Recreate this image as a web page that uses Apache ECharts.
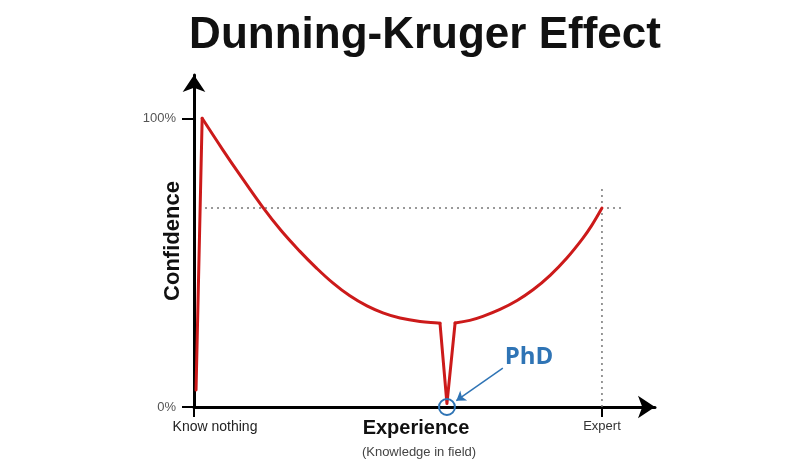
<!DOCTYPE html>
<html>
<head>
<meta charset="utf-8">
<script src="https://cdn.jsdelivr.net/npm/echarts@6/dist/echarts.min.js"></script>
<style>
  html, body { margin: 0; padding: 0; background: #fff; }
  #chart { width: 809px; height: 466px; }
</style>
</head>
<body>
<div id="chart"></div>
<script>
// confidence curve (x: experience 0..100, y: confidence %)
// straight climb at the very start
var climbX = [0.5, 2.0];
var climbY = [5.9, 100];
// long fall after the peak
var fallX = [2.0, 7.1, 11.3, 16.7, 21.3, 25.9, 29.9, 34.1, 38.2, 42.4, 46.3, 50.5, 55.4, 59.8, 60.3];
var fallY = [100, 89.0, 80.3, 69.5, 61.2, 54.0, 48.3, 42.9, 38.5, 35.0, 32.6, 30.8, 29.6, 29.1, 29.0];
// the PhD dip
var dipX = [60.3, 62.0, 64.0];
var dipY = [29.0, 1.2, 29.1];
// slow rise to expert
var riseX = [64.0, 67.6, 70.8, 75.0, 79.2, 83.1, 87.3, 91.4, 95.3, 97.5, 100];
var riseY = [29.1, 30.0, 31.4, 33.8, 36.9, 40.6, 45.6, 51.6, 58.4, 62.9, 68.9];

// dotted guide lines
var hGuideX = [2.7, 104.9];
var hGuideY = [68.9, 68.9];
var vGuideX = [100, 100];
var vGuideY = [0, 75.8];

// PhD marker + arrow
var phdPoint = [62.0, 0];
var arrowFrom = [75.7, 13.5];
var arrowTo = [64.3, 2.2];

var yTickValues = [0, 100];
var yTickLabels = ['0%', '100%'];
var xTickValues = [0, 100];
var xTickLabels = ['Know nothing', 'Expert'];

var RED = '#cc1a1a';
var BLUE = '#2f74b5';

function zip(xs, ys) {
  var out = [];
  for (var i = 0; i < xs.length; i++) out.push([xs[i], ys[i]]);
  return out;
}

function curvePart(xs, ys, smooth) {
  return {
    type: 'line',
    data: zip(xs, ys),
    symbol: 'none',
    smooth: smooth,
    z: 5,
    lineStyle: { color: RED, width: 3, cap: 'round', join: 'round' }
  };
}

var chart = echarts.init(document.getElementById('chart'));

var option = {
  backgroundColor: '#fff',
  animation: false,
  title: {
    text: 'Dunning-Kruger Effect',
    left: 420,
    textAlign: 'center',
    top: 9,
    textStyle: {
      fontFamily: 'Liberation Sans',
      fontWeight: 'bold',
      fontSize: 44,
      color: '#111'
    }
  },
  graphic: [{
    type: 'text',
    x: 419,
    y: 452,
    style: {
      text: '(Knowledge in field)',
      fontFamily: 'Liberation Sans',
      fontSize: 13,
      fill: '#444',
      align: 'center',
      verticalAlign: 'middle'
    }
  }],
  grid: {
    left: 194,
    top: 75,
    width: 461,
    height: 332
  },
  xAxis: {
    type: 'value',
    min: 0,
    max: 113,
    name: 'Experience',
    nameLocation: 'middle',
    nameGap: 11,
    nameMoveOverlap: false,
    nameTextStyle: {
      fontFamily: 'Liberation Sans',
      fontWeight: 'bold',
      fontSize: 20,
      color: '#111',
      padding: [0, 17, 0, 0],
      verticalAlign: 'top'
    },
    splitLine: { show: false },
    axisLine: {
      onZero: false,
      symbol: ['none', 'arrow'],
      symbolSize: [17, 17],
      lineStyle: { color: '#000', width: 3 }
    },
    axisTick: {
      customValues: xTickValues,
      length: 10,
      lineStyle: { color: '#000', width: 2 }
    },
    axisLabel: {
      customValues: xTickValues,
      margin: 13,
      fontFamily: 'Liberation Sans',
      fontSize: 13,
      color: '#333',
      formatter: function (v) {
        var i = xTickValues.indexOf(v);
        if (i < 0) return '';
        return i === 0 ? '{a|' + xTickLabels[i] + '}' : xTickLabels[i];
      },
      rich: {
        a: { fontFamily: 'Liberation Sans', fontSize: 14, color: '#222', padding: [0, 0, 0, 42] }
      }
    }
  },
  yAxis: {
    type: 'value',
    min: 0,
    max: 115,
    name: 'Confidence',
    nameLocation: 'middle',
    nameGap: 10,
    nameMoveOverlap: false,
    nameTextStyle: {
      fontFamily: 'Liberation Sans',
      fontWeight: 'bold',
      fontSize: 22,
      color: '#111'
    },
    splitLine: { show: false },
    axisLine: {
      onZero: false,
      symbol: ['none', 'arrow'],
      symbolSize: [17, 17],
      lineStyle: { color: '#000', width: 3 }
    },
    axisTick: {
      customValues: yTickValues,
      length: 12,
      lineStyle: { color: '#000', width: 2 }
    },
    axisLabel: {
      customValues: yTickValues,
      margin: 18,
      fontFamily: 'Liberation Sans',
      fontSize: 13,
      color: '#555',
      formatter: function (v) {
        var i = yTickValues.indexOf(v);
        return i < 0 ? '' : yTickLabels[i];
      }
    }
  },
  series: [
    {
      type: 'line',
      data: zip(hGuideX, hGuideY),
      symbol: 'none',
      silent: true,
      lineStyle: { color: '#777', width: 1.5, type: [2, 4] }
    },
    {
      type: 'line',
      data: zip(vGuideX, vGuideY),
      symbol: 'none',
      silent: true,
      lineStyle: { color: '#777', width: 1.5, type: [2, 4] }
    },
    curvePart(climbX, climbY, false),
    curvePart(fallX, fallY, 0.4),
    curvePart(dipX, dipY, false),
    curvePart(riseX, riseY, 0.4),
    {
      type: 'lines',
      coordinateSystem: 'cartesian2d',
      z: 6,
      symbol: ['none', 'arrow'],
      symbolSize: 9,
      lineStyle: { color: BLUE, width: 1.5, opacity: 1 },
      data: [{ coords: [arrowFrom, arrowTo] }]
    },
    {
      type: 'scatter',
      z: 7,
      data: [phdPoint],
      symbol: 'circle',
      symbolSize: 16,
      itemStyle: { color: 'rgba(0,0,0,0)', borderColor: BLUE, borderWidth: 2, opacity: 1 },
      label: {
        show: true,
        formatter: 'PhD',
        position: 'inside',
        offset: [82, -50],
        fontFamily: 'Open Sans',
        fontWeight: 'bold',
        fontSize: 24,
        color: BLUE
      }
    }
  ]
};

chart.setOption(option);
</script>
</body>
</html>
